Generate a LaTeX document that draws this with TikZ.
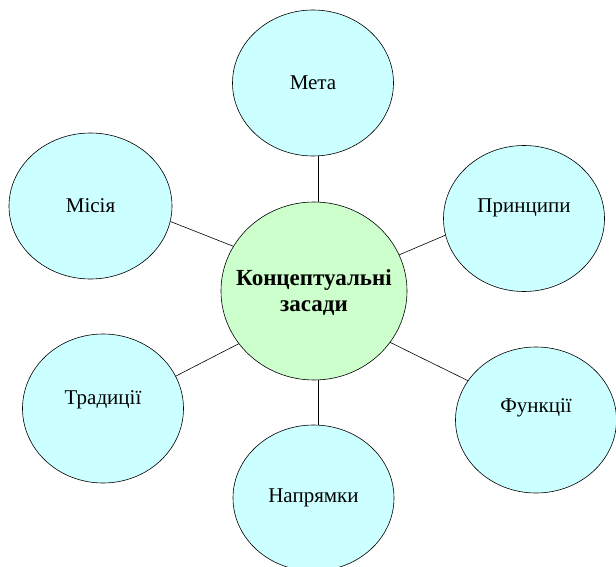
\documentclass[tikz,border=0pt]{standalone}
\usepackage{fontspec}
\setmainfont{Liberation Serif}
\usetikzlibrary{shapes.geometric}
\definecolor{Sky}{RGB}{204,255,255}
\definecolor{Mint}{RGB}{204,255,204}
\tikzstyle{bubble} = [ellipse,
draw=black, fill=Sky, line width=0.6pt,
minimum width=161pt,
minimum height=146pt, inner sep=0pt,
font=\fontsize{21}{24}\selectfont]
\tikzstyle{core} = [ellipse, draw=black, fill=Mint, line width=0.6pt,
minimum width=186pt, minimum height=178pt, inner sep=0pt]
\tikzstyle{corelabel} = [align=center, font=\fontsize{23}{26}\selectfont\bfseries]
\tikzstyle{spoke} = [line width=0.6pt]

\begin{document}
\begin{tikzpicture}[x=1pt, y=-1pt]
    \useasboundingbox (0,0) rectangle (616,567);

    \node[core] (base) at (314,291) {};
    \node[corelabel] (basetext) at (314,293) {Концептуальні\\засади};

    \node[bubble]                          (goal)       at (313,83)    {Мета};
    \node[bubble, minimum width=163pt]     (mission)    at (90.5,206)  {Місія};
    \node[bubble, text depth=25pt]         (principles) at (524,218.5) {Принципи};
    \node[bubble, text depth=21pt, minimum height=149pt] (traditions) at (103,408.5) {Традиції};
    \node[bubble, text depth=28pt]         (functions)  at (536,420)   {Функції};
    \node[bubble]                          (directions) at (313.5,498) {Напрямки};

    \draw[spoke] (base.87)  -- (base.87 |- goal.south);
    \draw[spoke] (base.151) -- (mission.-11);
    \draw[spoke] (base.23)  -- (principles.-168);
    \draw[spoke] (base.215) -- (traditions.24);
    \draw[spoke] (base.-34) -- (functions.150);
    \draw[spoke] (base.-87) -- (base.-87 |- directions.north);
\end{tikzpicture}
\end{document}
